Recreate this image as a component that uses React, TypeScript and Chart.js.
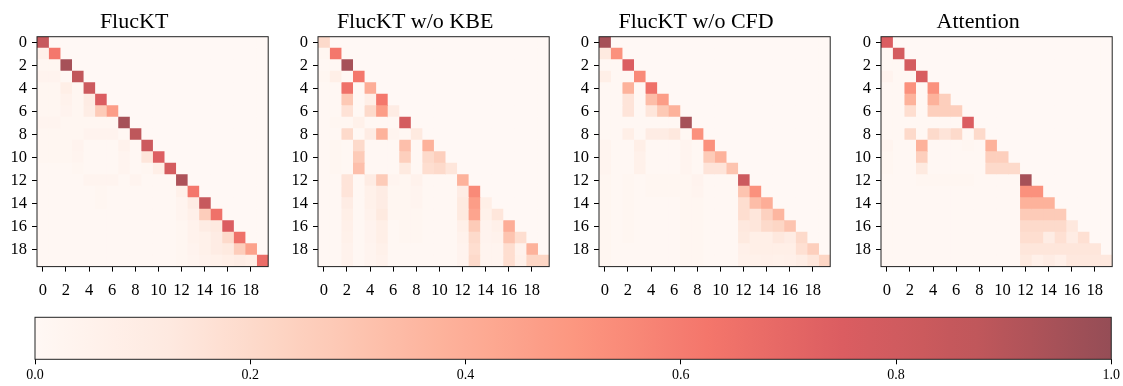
import React, { useEffect, useRef } from 'react';
import { Chart, registerables } from 'chart.js';

Chart.register(...registerables);

const FONT = "'Liberation Serif', 'Times New Roman', serif";

const titles = ['FlucKT', 'FlucKT w/o KBE', 'FlucKT w/o CFD', 'Attention'];
const rowLabels = ['0', '1', '2', '3', '4', '5', '6', '7', '8', '9', '10', '11', '12', '13', '14', '15', '16', '17', '18', '19'];
const xTickValues = [0, 2, 4, 6, 8, 10, 12, 14, 16, 18];
const colorbarTicks = [0, 0.2, 0.4, 0.6, 0.8, 1.0];
const redsStops = ['#fff5f0', '#fee0d2', '#fcbba1', '#fc9272', '#fb6a4a', '#ef3b2c', '#cb181d', '#a50f15', '#67000d'];
const cmapAlpha = 0.7;

// lower-triangular attention weights, row r holds columns 0..r
const flucktRows: number[][] = [
  [0.84],
  [0.07, 0.62],
  [0.02, 0.02, 0.95],
  [0.04, 0.04, 0.01, 0.87],
  [0.02, 0.02, 0.08, 0.02, 0.82],
  [0.02, 0.02, 0.05, 0.02, 0.10, 0.75],
  [0.02, 0.02, 0.04, 0.02, 0.09, 0.27, 0.47],
  [0.03, 0.03, 0.02, 0.02, 0.02, 0.02, 0.02, 0.95],
  [0.02, 0.02, 0.02, 0.02, 0.04, 0.04, 0.04, 0.01, 0.88],
  [0.02, 0.02, 0.02, 0.04, 0.01, 0.01, 0.01, 0.05, 0.01, 0.82],
  [0.02, 0.02, 0.02, 0.03, 0.01, 0.01, 0.01, 0.03, 0.01, 0.14, 0.74],
  [0.01, 0.01, 0.01, 0.02, 0.01, 0.01, 0.01, 0.03, 0.01, 0.02, 0.08, 0.78],
  [0.01, 0.01, 0.01, 0.01, 0.03, 0.03, 0.03, 0.01, 0.03, 0.01, 0.01, 0.01, 0.93],
  [0.01, 0.01, 0.01, 0.01, 0.01, 0.02, 0.01, 0.01, 0.01, 0.01, 0.01, 0.01, 0.06, 0.62],
  [0.01, 0.01, 0.01, 0.01, 0.01, 0.02, 0.01, 0.01, 0.01, 0.01, 0.01, 0.01, 0.03, 0.10, 0.84],
  [0.01, 0.01, 0.01, 0.01, 0.01, 0.01, 0.01, 0.01, 0.01, 0.01, 0.01, 0.01, 0.03, 0.07, 0.26, 0.65],
  [0.01, 0.01, 0.01, 0.01, 0.01, 0.01, 0.01, 0.01, 0.01, 0.01, 0.01, 0.01, 0.02, 0.05, 0.10, 0.12, 0.75],
  [0.01, 0.01, 0.01, 0.01, 0.01, 0.01, 0.01, 0.01, 0.01, 0.01, 0.01, 0.01, 0.02, 0.05, 0.06, 0.10, 0.20, 0.65],
  [0.01, 0.01, 0.01, 0.01, 0.01, 0.01, 0.01, 0.01, 0.01, 0.01, 0.01, 0.01, 0.02, 0.04, 0.06, 0.10, 0.12, 0.26, 0.45],
  [0.01, 0.01, 0.01, 0.01, 0.01, 0.01, 0.01, 0.01, 0.01, 0.01, 0.01, 0.01, 0.02, 0.03, 0.05, 0.06, 0.08, 0.09, 0.08, 0.67],
];

const noKbeRows: number[][] = [
  [0.20],
  [0.02, 0.62],
  [0.01, 0.01, 0.95],
  [0.02, 0.08, 0.01, 0.62],
  [0.01, 0.01, 0.65, 0.01, 0.40],
  [0.01, 0.01, 0.28, 0.01, 0.08, 0.62],
  [0.01, 0.01, 0.16, 0.01, 0.20, 0.47, 0.10],
  [0.01, 0.02, 0.02, 0.06, 0.01, 0.01, 0.01, 0.78],
  [0.01, 0.01, 0.20, 0.01, 0.10, 0.38, 0.03, 0.01, 0.12],
  [0.01, 0.02, 0.01, 0.20, 0.01, 0.01, 0.01, 0.32, 0.01, 0.38],
  [0.01, 0.02, 0.01, 0.27, 0.01, 0.01, 0.01, 0.25, 0.01, 0.20, 0.25],
  [0.01, 0.02, 0.01, 0.32, 0.01, 0.01, 0.01, 0.12, 0.01, 0.18, 0.20, 0.14],
  [0.01, 0.01, 0.15, 0.01, 0.10, 0.27, 0.03, 0.02, 0.05, 0.01, 0.01, 0.01, 0.38],
  [0.01, 0.01, 0.15, 0.01, 0.06, 0.10, 0.02, 0.02, 0.03, 0.01, 0.01, 0.01, 0.10, 0.55],
  [0.01, 0.01, 0.10, 0.01, 0.06, 0.10, 0.02, 0.02, 0.03, 0.01, 0.01, 0.01, 0.12, 0.47, 0.08],
  [0.01, 0.01, 0.08, 0.01, 0.05, 0.12, 0.02, 0.02, 0.02, 0.01, 0.01, 0.01, 0.12, 0.44, 0.06, 0.14],
  [0.01, 0.01, 0.07, 0.01, 0.04, 0.08, 0.01, 0.02, 0.02, 0.01, 0.01, 0.01, 0.07, 0.27, 0.04, 0.07, 0.40],
  [0.01, 0.01, 0.06, 0.01, 0.04, 0.08, 0.01, 0.02, 0.02, 0.01, 0.01, 0.01, 0.05, 0.20, 0.04, 0.05, 0.30, 0.18],
  [0.01, 0.01, 0.05, 0.01, 0.03, 0.06, 0.01, 0.01, 0.01, 0.01, 0.01, 0.01, 0.04, 0.18, 0.03, 0.03, 0.18, 0.05, 0.38],
  [0.01, 0.01, 0.05, 0.01, 0.03, 0.05, 0.01, 0.01, 0.01, 0.01, 0.01, 0.01, 0.04, 0.20, 0.03, 0.03, 0.18, 0.06, 0.22, 0.22],
];

const noCfdRows: number[][] = [
  [0.95],
  [0.12, 0.52],
  [0.01, 0.01, 0.75],
  [0.08, 0.01, 0.01, 0.55],
  [0.01, 0.01, 0.38, 0.01, 0.65],
  [0.01, 0.01, 0.15, 0.01, 0.33, 0.47],
  [0.01, 0.01, 0.15, 0.01, 0.14, 0.28, 0.38],
  [0.01, 0.01, 0.01, 0.01, 0.01, 0.01, 0.01, 0.95],
  [0.01, 0.01, 0.08, 0.01, 0.10, 0.10, 0.13, 0.01, 0.52],
  [0.03, 0.01, 0.01, 0.08, 0.01, 0.01, 0.01, 0.03, 0.01, 0.52],
  [0.03, 0.01, 0.01, 0.06, 0.01, 0.01, 0.01, 0.03, 0.01, 0.27, 0.38],
  [0.03, 0.01, 0.01, 0.06, 0.01, 0.01, 0.01, 0.03, 0.01, 0.15, 0.15, 0.30],
  [0.02, 0.01, 0.02, 0.01, 0.02, 0.02, 0.02, 0.02, 0.04, 0.01, 0.01, 0.01, 0.82],
  [0.02, 0.01, 0.02, 0.01, 0.02, 0.02, 0.02, 0.02, 0.03, 0.01, 0.01, 0.01, 0.30, 0.52],
  [0.02, 0.01, 0.02, 0.01, 0.01, 0.01, 0.01, 0.02, 0.02, 0.01, 0.01, 0.01, 0.18, 0.33, 0.40],
  [0.02, 0.01, 0.02, 0.01, 0.01, 0.01, 0.01, 0.02, 0.02, 0.01, 0.01, 0.01, 0.18, 0.14, 0.24, 0.36],
  [0.02, 0.01, 0.02, 0.01, 0.01, 0.01, 0.01, 0.02, 0.02, 0.01, 0.01, 0.01, 0.13, 0.14, 0.20, 0.22, 0.30],
  [0.02, 0.01, 0.02, 0.01, 0.01, 0.01, 0.01, 0.02, 0.02, 0.01, 0.01, 0.01, 0.12, 0.08, 0.08, 0.13, 0.10, 0.20],
  [0.02, 0.01, 0.01, 0.01, 0.01, 0.01, 0.01, 0.02, 0.02, 0.01, 0.01, 0.01, 0.07, 0.08, 0.08, 0.08, 0.08, 0.17, 0.25],
  [0.02, 0.01, 0.01, 0.01, 0.01, 0.01, 0.01, 0.02, 0.02, 0.01, 0.01, 0.01, 0.06, 0.06, 0.07, 0.06, 0.07, 0.09, 0.14, 0.22],
];

const attentionRows: number[][] = [
  [0.75],
  [0.01, 0.78],
  [0.01, 0.01, 0.78],
  [0.04, 0.01, 0.01, 0.76],
  [0.01, 0.01, 0.52, 0.01, 0.52],
  [0.01, 0.01, 0.38, 0.01, 0.38, 0.25],
  [0.01, 0.01, 0.18, 0.01, 0.25, 0.25, 0.25],
  [0.01, 0.01, 0.01, 0.01, 0.01, 0.01, 0.01, 0.75],
  [0.01, 0.01, 0.20, 0.01, 0.20, 0.15, 0.20, 0.01, 0.20],
  [0.03, 0.01, 0.01, 0.38, 0.01, 0.01, 0.01, 0.02, 0.01, 0.38],
  [0.02, 0.01, 0.01, 0.25, 0.01, 0.01, 0.01, 0.01, 0.01, 0.25, 0.25],
  [0.02, 0.01, 0.01, 0.12, 0.01, 0.01, 0.01, 0.01, 0.01, 0.20, 0.20, 0.20],
  [0.01, 0.01, 0.01, 0.02, 0.02, 0.02, 0.02, 0.02, 0.01, 0.01, 0.01, 0.01, 0.95],
  [0.01, 0.01, 0.01, 0.01, 0.01, 0.01, 0.01, 0.01, 0.01, 0.01, 0.01, 0.01, 0.52, 0.52],
  [0.01, 0.01, 0.01, 0.01, 0.01, 0.01, 0.01, 0.01, 0.01, 0.01, 0.01, 0.01, 0.38, 0.38, 0.38],
  [0.01, 0.01, 0.01, 0.01, 0.01, 0.01, 0.01, 0.01, 0.01, 0.01, 0.01, 0.01, 0.27, 0.27, 0.27, 0.27],
  [0.01, 0.01, 0.01, 0.01, 0.01, 0.01, 0.01, 0.01, 0.01, 0.01, 0.01, 0.01, 0.20, 0.20, 0.20, 0.20, 0.13],
  [0.01, 0.01, 0.01, 0.01, 0.01, 0.01, 0.01, 0.01, 0.01, 0.01, 0.01, 0.01, 0.18, 0.18, 0.10, 0.17, 0.10, 0.17],
  [0.01, 0.01, 0.01, 0.01, 0.01, 0.01, 0.01, 0.01, 0.01, 0.01, 0.01, 0.01, 0.14, 0.14, 0.14, 0.14, 0.14, 0.14, 0.14],
  [0.01, 0.01, 0.01, 0.01, 0.01, 0.01, 0.01, 0.01, 0.01, 0.01, 0.01, 0.01, 0.12, 0.07, 0.10, 0.07, 0.13, 0.13, 0.13, 0.13],
];

const panels = [flucktRows, noKbeRows, noCfdRows, attentionRows];

// layout (pixels)
const panelLefts = [36.7, 317.9, 599.1, 880.6];
const BOX_W = 231.2;
const BOX_TOP = 36.7;
const BOX_BOTTOM = 266.6;
const Y_AXIS_W = 37;
const PANEL_H = 300;
const TITLE_SIZE = 22;

function hexToRgb(h: string): number[] {
  return [parseInt(h.slice(1, 3), 16), parseInt(h.slice(3, 5), 16), parseInt(h.slice(5, 7), 16)];
}
const stopRgb = redsStops.map(hexToRgb);

function cmap(v: number): string {
  const t = Math.max(0, Math.min(1, v)) * (stopRgb.length - 1);
  const i = Math.min(stopRgb.length - 2, Math.floor(t));
  const f = t - i;
  const a = stopRgb[i];
  const b = stopRgb[i + 1];
  const c = [0, 1, 2].map((k) => {
    const raw = a[k] + (b[k] - a[k]) * f;
    return Math.round(255 * (1 - cmapAlpha) + raw * cmapAlpha);
  });
  return `rgb(${c[0]},${c[1]},${c[2]})`;
}

const framePlugin = {
  id: 'frame',
  afterDraw(chart: any) {
    const { ctx, chartArea: a } = chart;
    ctx.save();
    ctx.strokeStyle = '#222';
    ctx.lineWidth = 1;
    ctx.strokeRect(a.left, a.top, a.right - a.left, a.bottom - a.top);
    ctx.restore();
  },
};

function Heatmap({ title, rows, left }: { title: string; rows: number[][]; left: number }) {
  const ref = useRef<HTMLCanvasElement>(null);
  const width = Math.round(Y_AXIS_W * 2 + BOX_W);
  const canvasLeft = left - Y_AXIS_W;
  useEffect(() => {
    if (!ref.current) return;
    const datasets = rowLabels.map((_, c) => ({
      label: 'col ' + c,
      data: rowLabels.map(() => [c - 0.5, c + 0.5]),
      backgroundColor: rowLabels.map((_, r) => cmap(r >= c ? rows[r][c] : 0)),
      borderWidth: 0,
      grouped: false,
      barPercentage: 1,
      categoryPercentage: 1,
    }));
    const chart = new Chart(ref.current, {
      type: 'bar',
      data: { labels: rowLabels, datasets: datasets as any },
      options: {
        indexAxis: 'y',
        animation: false,
        responsive: false,
        maintainAspectRatio: false,
        layout: { padding: { left: 0, right: width - Y_AXIS_W - BOX_W, top: 0, bottom: 0 } },
        plugins: {
          legend: { display: false },
          tooltip: { enabled: false },
          title: {
            display: true,
            text: title,
            color: '#000',
            font: { family: FONT, size: TITLE_SIZE, weight: 'normal' as any, lineHeight: 1.2 },
            padding: { top: 8.8, bottom: BOX_TOP - TITLE_SIZE * 1.2 - 8.8 },
          },
        },
        scales: {
          x: {
            type: 'linear',
            min: -0.5,
            max: 19.5,
            afterBuildTicks: (s: any) => {
              s.ticks = xTickValues.map((v) => ({ value: v }));
            },
            afterFit: (s: any) => {
              s.height = PANEL_H - BOX_BOTTOM;
            },
            ticks: {
              autoSkip: false,
              maxRotation: 0,
              color: '#000',
              padding: 9,
              font: { family: FONT, size: 16.5 },
              callback: (v: any) => String(v),
            },
            grid: { drawOnChartArea: false, drawTicks: true, tickLength: 5, tickColor: '#000', tickWidth: 1 },
            border: { display: false },
          },
          y: {
            type: 'category',
            offset: true,
            afterFit: (s: any) => {
              s.width = Y_AXIS_W;
            },
            ticks: {
              autoSkip: false,
              color: '#000',
              padding: 5,
              font: { family: FONT, size: 16.5 },
              callback: (_v: any, i: number) => (i % 2 === 0 ? rowLabels[i] : ''),
            },
            grid: {
              offset: false,
              drawOnChartArea: false,
              drawTicks: true,
              tickLength: 5,
              tickWidth: 1,
              tickColor: (ctx: any) => (ctx.index % 2 === 0 ? '#000' : 'rgba(0,0,0,0)'),
            },
            border: { display: false },
          },
        },
      },
      plugins: [framePlugin],
    });
    return () => chart.destroy();
  }, [title, rows, width]);
  return (
    <canvas
      ref={ref}
      width={width}
      height={PANEL_H}
      style={{ position: 'absolute', left: canvasLeft, top: 0, width, height: PANEL_H }}
    />
  );
}

const CB_TOP = 300;
const CB_H = 86;
const CB_LEFT = 35;
const CB_RIGHT = 1112.7;
const CB_BAR_TOP = 317.3;
const CB_BAR_BOTTOM = 359.3;

function Colorbar() {
  const ref = useRef<HTMLCanvasElement>(null);
  useEffect(() => {
    if (!ref.current) return;
    const chart = new Chart(ref.current, {
      type: 'bar',
      data: {
        labels: ['scale'],
        datasets: [
          {
            data: [[0, 1]] as any,
            borderWidth: 0,
            barPercentage: 1,
            categoryPercentage: 1,
            backgroundColor: (context: any) => {
              const { chart: ch } = context;
              const area = ch.chartArea;
              if (!area) return cmap(0.5);
              const g = ch.ctx.createLinearGradient(area.left, 0, area.right, 0);
              for (let k = 0; k <= 40; k++) {
                g.addColorStop(k / 40, cmap(k / 40));
              }
              return g;
            },
          },
        ],
      },
      options: {
        indexAxis: 'y',
        animation: false,
        responsive: false,
        maintainAspectRatio: false,
        layout: {
          padding: { left: CB_LEFT, right: 1123 - CB_RIGHT, top: CB_BAR_TOP - CB_TOP, bottom: 0 },
        },
        plugins: { legend: { display: false }, tooltip: { enabled: false }, title: { display: false } },
        scales: {
          x: {
            type: 'linear',
            min: 0,
            max: 1,
            afterBuildTicks: (s: any) => {
              s.ticks = colorbarTicks.map((v) => ({ value: v }));
            },
            afterFit: (s: any) => {
              s.height = CB_TOP + CB_H - CB_BAR_BOTTOM;
            },
            ticks: {
              autoSkip: false,
              maxRotation: 0,
              color: '#000',
              padding: 3,
              font: { family: FONT, size: 14 },
              callback: (v: any) => Number(v).toFixed(1),
            },
            grid: { drawOnChartArea: false, drawTicks: true, tickLength: 5, tickColor: '#000', tickWidth: 1 },
            border: { display: false },
          },
          y: { display: false, offset: true },
        },
      },
      plugins: [framePlugin],
    });
    return () => chart.destroy();
  }, []);
  return (
    <canvas
      ref={ref}
      width={1123}
      height={CB_H}
      style={{ position: 'absolute', left: 0, top: CB_TOP, width: 1123, height: CB_H }}
    />
  );
}

export default function App() {
  return (
    <div style={{ position: 'absolute', left: 0, top: 0, width: 1123, height: 386, background: '#fff', overflow: 'hidden' }}>
      {panels.map((rows, i) => (
        <Heatmap key={i} title={titles[i]} rows={rows} left={panelLefts[i]} />
      ))}
      <Colorbar />
    </div>
  );
}
